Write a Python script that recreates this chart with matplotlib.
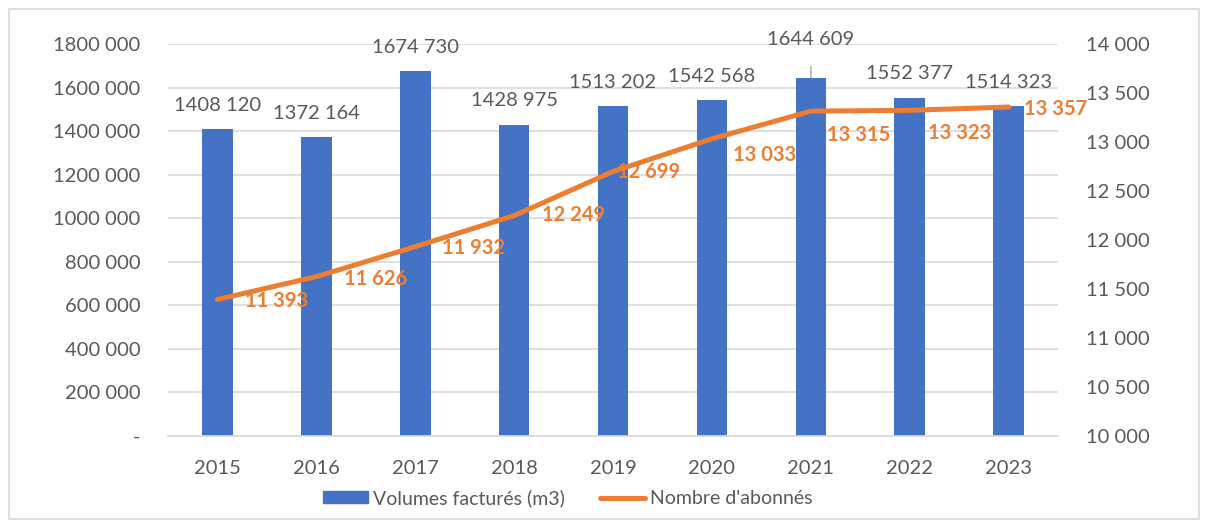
import matplotlib.pyplot as plt
import matplotlib.patches as mpatches
import numpy as np

# data
years = ["2015", "2016", "2017", "2018", "2019", "2020", "2021", "2022", "2023"]
volumes = [1408120, 1372164, 1674730, 1428975, 1513202, 1542568, 1644609, 1552377, 1514323]
abonnes = [11393, 11626, 11932, 12249, 12699, 13033, 13315, 13323, 13357]

BLUE = "#4472C4"
ORANGE = "#ED7D31"
TXT = "#595959"
GRID = "#D9D9D9"
FS = 14.5


def fmt(v):
    v = int(round(v))
    if v == 0:
        return "-"
    if v >= 1000:
        return f"{v // 1000} {v % 1000:03d}"
    return str(v)


plt.rcParams["font.family"] = ["Lato", "DejaVu Sans"]
plt.rcParams["font.size"] = FS

fig = plt.figure(figsize=(12.08, 5.27), dpi=100)
ax = fig.add_axes([0.139, 0.1727, 0.737, 0.7438])
ax2 = ax.twinx()

x = np.arange(len(years))
bars = ax.bar(x, volumes, width=0.31, color=BLUE, zorder=2, label="Volumes facturés (m3)")
ax.set_ylim(0, 1800000)
ax.set_xlim(-0.5, len(years) - 0.5)
ax.set_yticks(np.arange(0, 1800001, 200000))
ax.set_yticklabels([fmt(v) for v in ax.get_yticks()])
ax.set_xticks(x)
ax.set_xticklabels(years)
ax.grid(axis="y", color=GRID, linewidth=1.2, zorder=0)
ax.set_axisbelow(True)
for s in ["top", "right", "left"]:
    ax.spines[s].set_visible(False)
ax.spines["bottom"].set_color(GRID)
ax.spines["bottom"].set_linewidth(1.2)
ax.tick_params(axis="both", length=0, colors=TXT, labelsize=FS)
ax.tick_params(axis="y", pad=20)
ax.tick_params(axis="x", pad=17)

# bar labels
for i, v in enumerate(volumes):
    if years[i] == "2021":
        ax.annotate(fmt(v), xy=(i, v), xytext=(0, 38), textcoords="offset pixels",
                    ha="center", va="center", color=TXT, fontsize=FS,
                    arrowprops=dict(arrowstyle="-", color="#A6A6A6", lw=1,
                                    shrinkA=11, shrinkB=0), annotation_clip=False)
    else:
        ax.annotate(fmt(v), xy=(i, v), xytext=(0, 24), textcoords="offset pixels",
                    ha="center", va="center", color=TXT, fontsize=FS, annotation_clip=False)

# line on secondary axis
ax2.plot(x, abonnes, color=ORANGE, linewidth=3.6, solid_capstyle="round", zorder=3,
         label="Nombre d'abonnés")
ax2.set_ylim(10000, 14000)
ax2.set_yticks(np.arange(10000, 14001, 500))
ax2.set_yticklabels([fmt(v) for v in ax2.get_yticks()])
for s in ["top", "right", "left", "bottom"]:
    ax2.spines[s].set_visible(False)
ax2.tick_params(axis="y", length=0, colors=TXT, labelsize=FS, pad=20)

# line label offsets (pixels): left edge relative to point
lbl_dx = [28, 28, 27, 28, 4, 21, 16, 18, 15]
lbl_dy = [-2, -2, -1, 1, -1, -16, -24, -23, -2]
for i, v in enumerate(abonnes):
    ax2.annotate(fmt(v), xy=(i, v), xytext=(lbl_dx[i], lbl_dy[i]), textcoords="offset pixels",
                 ha="left", va="center", color=ORANGE, fontsize=FS, fontweight="bold",
                 annotation_clip=False)

# legend
LFS = 14
h1 = mpatches.Patch(color=BLUE)
h2 = plt.Line2D([], [], color=ORANGE, linewidth=3.6, solid_capstyle="round")
fig.legend([h1, h2], ["Volumes facturés (m3)", "Nombre d'abonnés"], loc="center",
           bbox_to_anchor=(0.47, 0.055), ncol=2, frameon=False, fontsize=LFS,
           handlelength=2.3, handleheight=0.55, handletextpad=0.27, columnspacing=1.8,
           labelcolor=TXT)

# outer frame
fig.patches.append(mpatches.Rectangle((0.0075, 0.015), 0.985, 0.967, transform=fig.transFigure,
                                      fill=False, edgecolor=GRID, linewidth=1.2))

fig.savefig("out.png", dpi=100)
